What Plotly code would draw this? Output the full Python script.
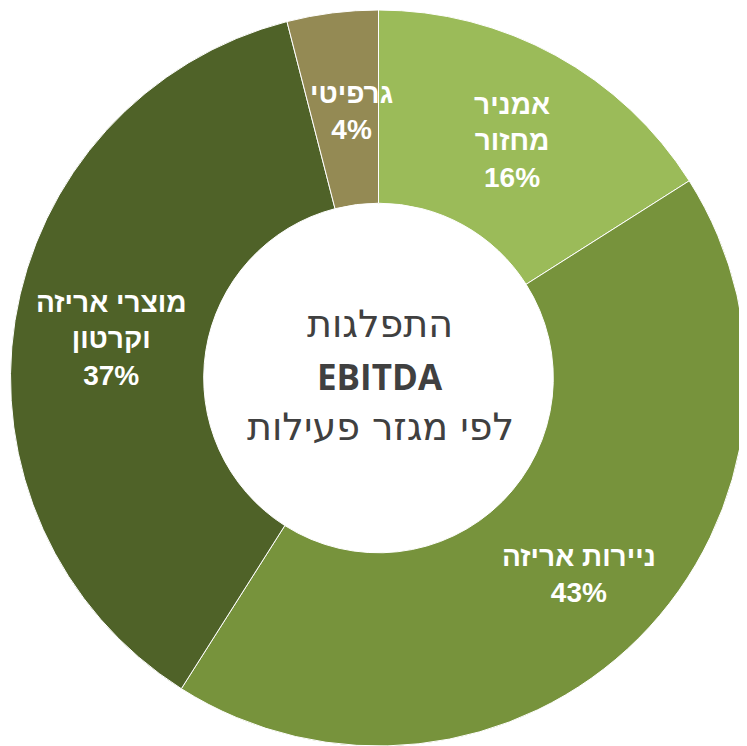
import plotly.graph_objects as go

segments = ["אמניר מחזור", "ניירות אריזה", "מוצרי אריזה וקרטון", "גרפיטי"]
shares = [16, 43, 37, 4]
label_texts = ["אמניר<br>מחזור<br>16%", "ניירות אריזה<br>43%", "מוצרי אריזה<br>וקרטון<br>37%", "גרפיטי<br>4%"]
colors = ["#9BBB59", "#77933C", "#4F6228", "#948A54"]
center_lines = ["התפלגות", "<b>EBITDA</b>", "לפי מגזר פעילות"]

OFF = 8  # page body margin
W, H = 747 - OFF, 746 - OFF
# label placement (page pixels)
label_pos = [(512, 141), (579, 574), (111, 339), (351, 111)]
center_pos = [(380, 324), (380, 376), (380, 427)]
center_fonts = ["DejaVu Sans, sans-serif", "Open Sans, DejaVu Sans, sans-serif", "DejaVu Sans, sans-serif"]
center_sizes = [38, 35, 38]

def px_to_paper(px, py):
    return (px - OFF) / W, 1 - (py - OFF) / H

fig = go.Figure(go.Pie(
    labels=segments,
    values=shares,
    sort=False,
    direction="clockwise",
    rotation=0,
    hole=0.475,
    marker=dict(colors=colors, line=dict(color="white", width=1)),
    textinfo="none",
    hoverinfo="label+percent",
    showlegend=False,
    domain=dict(x=[2 / W, 1], y=[0, 1 - 2 / H]),
))

annotations = []
for t, (px, py) in zip(label_texts, label_pos):
    x, y = px_to_paper(px, py)
    annotations.append(dict(
        x=x, y=y, xref="paper", yref="paper",
        text="<b>" + t + "</b>", showarrow=False, align="center",
        xanchor="center", yanchor="middle",
        font=dict(family="Arial, Liberation Sans, sans-serif", size=28, color="white"),
    ))
for t, (px, py), fam, sz in zip(center_lines, center_pos, center_fonts, center_sizes):
    x, y = px_to_paper(px, py)
    annotations.append(dict(
        x=x, y=y, xref="paper", yref="paper",
        text=t, showarrow=False, align="center",
        xanchor="center", yanchor="middle",
        font=dict(family=fam, size=sz, color="#404040"),
    ))

fig.update_layout(
    width=W, height=H,
    margin=dict(l=0, r=0, t=0, b=0),
    paper_bgcolor="white", plot_bgcolor="white",
    annotations=annotations,
)

fig.write_html("out.html")
